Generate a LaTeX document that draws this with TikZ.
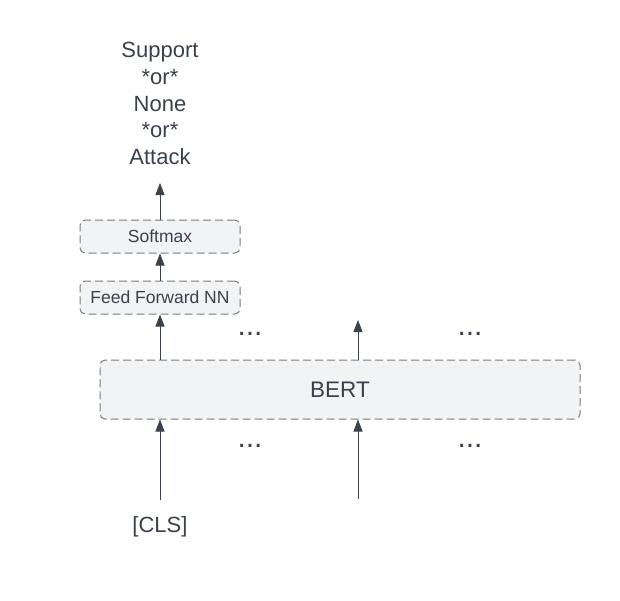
\documentclass[tikz,border=0pt]{standalone}
\usepackage{fontspec}
\setmainfont{Liberation Sans}
\usetikzlibrary{arrows.meta}
\definecolor{boxfill}{HTML}{F2F3F5}
\definecolor{boxline}{HTML}{7A7A7A}
\definecolor{ink}{HTML}{3A414A}
\begin{document}
\begin{tikzpicture}[x=1pt,y=-1pt,
  dbox/.style={draw=boxline,fill=boxfill,dash pattern=on 8pt off 4pt,rounded corners=5pt,line width=1pt,text=ink,inner sep=0pt},
  arr/.style={draw=ink,line width=0.9pt,-{Triangle[width=9pt,length=12pt]}},
  lbl/.style={text=ink,font=\fontsize{22}{26.7}\selectfont,align=center,inner sep=0pt},
  dots/.style={text=ink,font=\fontsize{30}{30}\selectfont,inner sep=0pt}]
\useasboundingbox (0,0) rectangle (620,600);
\node[lbl] (out) at (160,103.5) {Support\\*or*\\None\\*or*\\Attack};
\node[dbox,minimum width=160pt,minimum height=33pt,font=\fontsize{17.5}{20}\selectfont] (soft) at (160,236.5) {Softmax};
\node[dbox,minimum width=160pt,minimum height=33pt,font=\fontsize{17.5}{20}\selectfont] (ffn) at (160,297.5) {Feed Forward NN};
\node[dbox,minimum width=480pt,minimum height=59pt,font=\fontsize{22.5}{26}\selectfont] (bert) at (340,389.5) {BERT};
\coordinate (t1) at (358,320);
\coordinate (b0) at (160,500);
\coordinate (b1) at (358,499);
\node[lbl] (cls) at (160,527) {[CLS]};
\node[dots] (d1) at (250,334) {...};
\node[dots] (d2) at (470,334) {...};
\node[dots] (d3) at (250,446) {...};
\node[dots] (d4) at (470,446) {...};
\coordinate (o) at (160,183);
\draw[arr] (soft.north) -- (o);
\draw[arr] (ffn.north) -- (soft.south);
\draw[arr] (bert.north -| ffn.south) -- (ffn.south);
\draw[arr] (bert.north -| t1) -- (t1);
\draw[arr] (b0) -- (b0 |- bert.south);
\draw[arr] (b1) -- (b1 |- bert.south);
\end{tikzpicture}
\end{document}
